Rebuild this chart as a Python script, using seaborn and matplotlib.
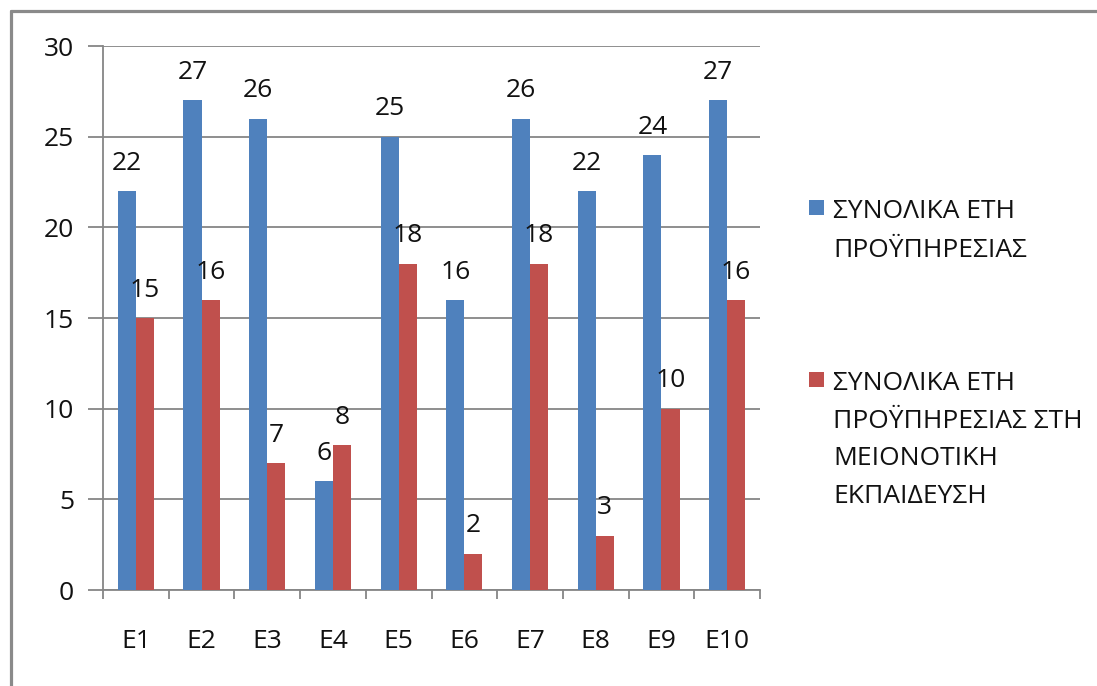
import matplotlib
matplotlib.use("Agg")
import matplotlib.pyplot as plt
from matplotlib.patches import Rectangle
from matplotlib.lines import Line2D
import seaborn as sns
import pandas as pd

categories = ["E1", "E2", "E3", "E4", "E5", "E6", "E7", "E8", "E9", "E10"]
total_years = [22, 27, 26, 6, 25, 16, 26, 22, 24, 27]
minority_years = [15, 16, 7, 8, 18, 2, 18, 3, 10, 16]
series_names = ["ΣΥΝΟΛΙΚΑ ΕΤΗ ΠΡΟΫΠΗΡΕΣΙΑΣ",
                "ΣΥΝΟΛΙΚΑ ΕΤΗ ΠΡΟΫΠΗΡΕΣΙΑΣ ΣΤΗ ΜΕΙΟΝΟΤΙΚΗ ΕΚΠΑΙΔΕΥΣΗ"]
legend_lines = [["ΣΥΝΟΛΙΚΑ ΕΤΗ", "ΠΡΟΫΠΗΡΕΣΙΑΣ"],
                ["ΣΥΝΟΛΙΚΑ ΕΤΗ", "ΠΡΟΫΠΗΡΕΣΙΑΣ ΣΤΗ", "ΜΕΙΟΝΟΤΙΚΗ", "ΕΚΠΑΙΔΕΥΣΗ"]]
yticks = [0, 5, 10, 15, 20, 25, 30]

colors = ["#4F81BD", "#C0504D"]
grid_c = "#868686"

df = pd.DataFrame({
    "cat": categories * 2,
    "val": total_years + minority_years,
    "series": [series_names[0]] * len(categories) + [series_names[1]] * len(categories),
})

sns.set_style("white")
plt.rcParams["font.family"] = ["Open Sans", "DejaVu Sans"]
FS = 19

W, H = 1097, 686
fig = plt.figure(figsize=(W / 100, H / 100), dpi=100)
fig.patch.set_facecolor("white")

ax = fig.add_axes([103 / W, 1 - 590 / H, (760 - 103) / W, (590 - 46) / H])
sns.barplot(data=df, x="cat", y="val", hue="series", order=categories,
            hue_order=series_names, palette=colors, width=0.55, saturation=1,
            gap=0, legend=False, ax=ax, zorder=3, linewidth=0)

for cont in ax.containers:
    ax.bar_label(cont, padding=11, fontsize=FS, color="#111111")

ax.set_ylim(0, 30)
ax.set_xlim(-0.5, len(categories) - 0.5)
ax.set_yticks(yticks)
ax.set_yticklabels([str(t) for t in yticks])
ax.set_xlabel("")
ax.set_ylabel("")
ax.yaxis.grid(True, color=grid_c, linewidth=1.3, zorder=0)
ax.set_axisbelow(True)
for s in ["top", "right"]:
    ax.spines[s].set_visible(False)
for s in ["left", "bottom"]:
    ax.spines[s].set_color(grid_c)
    ax.spines[s].set_linewidth(1.3)

ax.tick_params(axis="y", which="major", length=10.8, width=1.3, color=grid_c,
               direction="out", left=True, pad=10, labelsize=FS, labelcolor="#111111")
ax.set_xticks(range(len(categories)))
ax.set_xticklabels(categories)
ax.set_xticks([i - 0.5 for i in range(len(categories) + 1)], minor=True)
ax.tick_params(axis="x", which="major", length=0, pad=28, labelsize=FS,
               labelcolor="#111111", bottom=True)
ax.tick_params(axis="x", which="minor", length=6.5, width=1.3, color=grid_c,
               direction="out", bottom=True)

# legend
def fx(px):
    return px / W

def fy(py):
    return 1 - py / H

sq = [(809, 200), (809, 372)]
baselines = [[218, 257], [390, 428, 465, 503]]
for i in range(2):
    fig.add_artist(Rectangle((fx(sq[i][0]), fy(sq[i][1] + 15)), 15 / W, 15 / H,
                             transform=fig.transFigure, facecolor=colors[i],
                             edgecolor="none"))
    for line, b in zip(legend_lines[i], baselines[i]):
        fig.text(fx(833), fy(b), line, fontsize=FS, va="baseline", ha="left",
                 color="#111111")

# chart border
fig.add_artist(Line2D([fx(10.5), fx(10.5)], [fy(10.5), 0], transform=fig.transFigure,
                      color="#8a8a8a", linewidth=2.3))
fig.add_artist(Line2D([fx(10.5), 1], [fy(10.5), fy(10.5)], transform=fig.transFigure,
                      color="#8a8a8a", linewidth=2.3))

fig.savefig("out.png", dpi=100, facecolor="white")
